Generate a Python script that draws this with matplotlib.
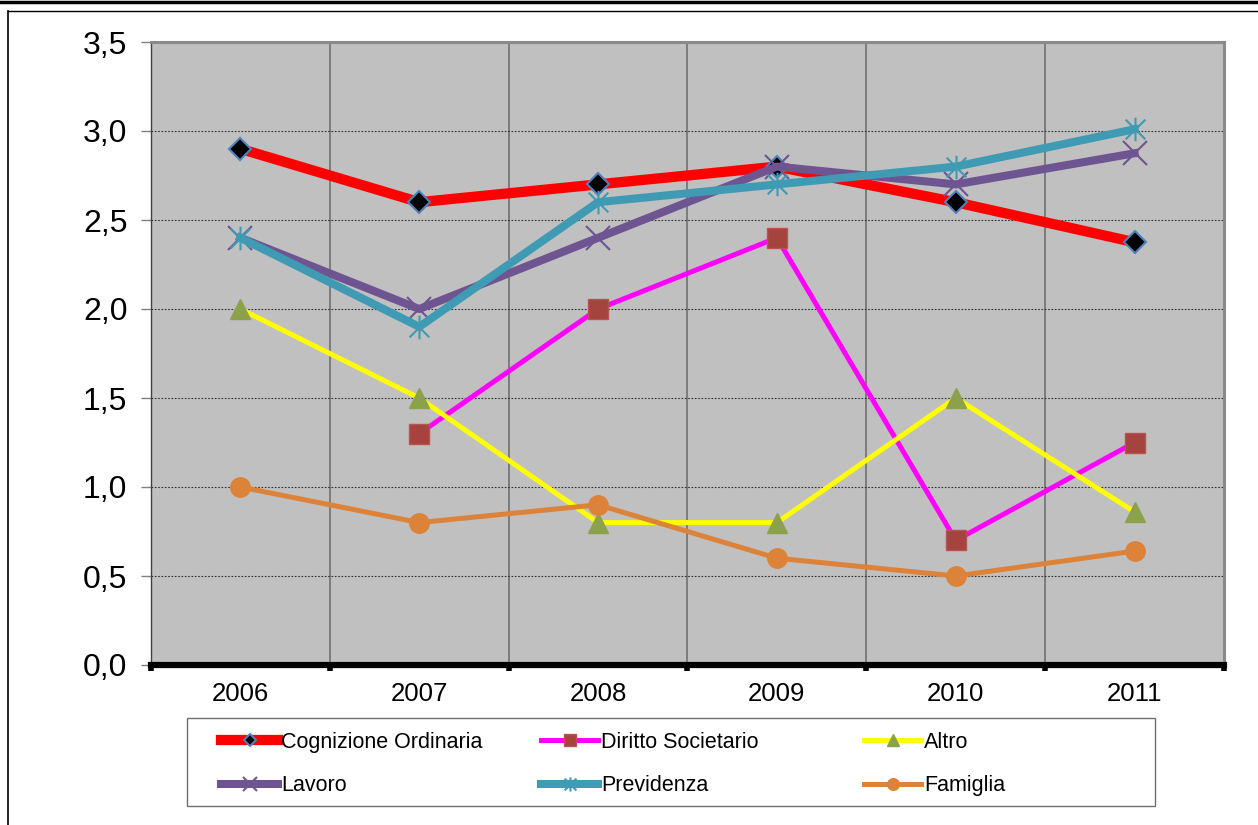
import numpy as np
import matplotlib.pyplot as plt
from matplotlib.lines import Line2D
from matplotlib.patches import Rectangle
from matplotlib.path import Path
from matplotlib.ticker import FixedLocator, FuncFormatter

plt.rcParams['font.family'] = ['Liberation Sans', 'DejaVu Sans']

years = ['2006', '2007', '2008', '2009', '2010', '2011']
cognizione = [2.9, 2.6, 2.7, 2.8, 2.6, 2.375]
diritto = [np.nan, 1.3, 2.0, 2.4, 0.7, 1.25]
altro = [2.0, 1.5, 0.8, 0.8, 1.5, 0.86]
lavoro = [2.4, 2.0, 2.4, 2.8, 2.7, 2.875]
previdenza = [2.4, 1.9, 2.6, 2.7, 2.8, 3.01]
famiglia = [1.0, 0.8, 0.9, 0.6, 0.5, 0.64]

# asterisk marker like Excel's "star" (x plus vertical bar)
star = Path([(-0.5, -0.5), (0.5, 0.5), (-0.5, 0.5), (0.5, -0.5), (0, -0.6), (0, 0.6)],
            [Path.MOVETO, Path.LINETO, Path.MOVETO, Path.LINETO, Path.MOVETO, Path.LINETO])

fig = plt.figure(figsize=(12.58, 8.25), dpi=100)
ax = fig.add_axes([151/1258, 1 - 665/825, (1224-151)/1258, (665-42)/825])
ax.set_facecolor('#c0c0c0')

x = np.arange(len(years))
h1, = ax.plot(x, cognizione, color='#ff0000', lw=7.4, marker='D', ms=11,
              mfc='black', mec='#4f81bd', mew=1.5, label='Cognizione Ordinaria')
h2, = ax.plot(x, diritto, color='#ff00ff', lw=3.6, marker='s', ms=14,
              mfc='#a5443f', mec='#b85450', mew=1, label='Diritto Societario')
h3, = ax.plot(x, altro, color='#ffff00', lw=3.6, marker='^', ms=15,
              mfc='#8ba14b', mec='#8ba14b', label='Altro')
h4, = ax.plot(x, lavoro, color='#6f5492', lw=5.8, marker='x', ms=17,
              mec='#6f5492', mew=1.5, label='Lavoro')
h5, = ax.plot(x, previdenza, color='#3f9ab3', lw=5.8, marker=star, ms=17,
              mec='#3f9ab3', mew=1.5, label='Previdenza')
h6, = ax.plot(x, famiglia, color='#dc8339', lw=3.6, marker='o', ms=14,
              mfc='#dc8339', mec='#dc8339', label='Famiglia')

ax.set_xlim(-0.5, 5.5)
ax.set_ylim(0, 3.5)
ax.set_yticks(np.arange(0, 3.51, 0.5))
ax.yaxis.set_major_formatter(FuncFormatter(lambda v, p: f'{v:.1f}'.replace('.', ',')))
ax.tick_params(axis='y', labelsize=23, length=7, width=1, color='#808080', pad=10)

ax.xaxis.set_major_locator(FixedLocator(np.arange(-0.5, 6, 1)))
ax.xaxis.set_minor_locator(FixedLocator(x))
ax.set_xticklabels([], minor=False)
ax.set_xticks(x, years, minor=True)
ax.tick_params(axis='x', which='major', length=4, width=4, color='black', direction='out')
ax.tick_params(axis='x', which='minor', length=0, labelsize=18.5, pad=12)

ax.grid(axis='y', color='#303030', ls=(0, (1.5, 1.5)), lw=0.8)
ax.grid(axis='x', which='major', color='#707070', lw=1.2)
ax.set_axisbelow(True)

ax.spines['bottom'].set_linewidth(4.5)
ax.spines['bottom'].set_color('black')
ax.spines['left'].set_color('#404040')
ax.spines['left'].set_linewidth(1)
ax.spines['top'].set_color('#8a8a8a')
ax.spines['top'].set_linewidth(2.2)
ax.spines['right'].set_color('#8a8a8a')
ax.spines['right'].set_linewidth(2.2)

# page-like frame lines
fig.add_artist(Line2D([0, 1], [1 - 1.5/825, 1 - 1.5/825], color='black', lw=2.5))
fig.add_artist(Line2D([8/1258, 1], [1 - 11/825, 1 - 11/825], color='black', lw=1))
fig.add_artist(Line2D([8/1258, 8/1258], [0, 1 - 11/825], color='black', lw=1.2))

# legend frame and three columns
fig.add_artist(Rectangle((187/1258, 1 - 806/825), (1155-187)/1258, (806-718)/825,
                         transform=fig.transFigure, fc='white', ec='#707070', lw=1))
cols = [([h1, h4], 221), ([h2, h5], 541), ([h3, h6], 864)]
for hs, xl in cols:
    lg = fig.legend(handles=hs, loc='upper left', bbox_to_anchor=(xl/1258, 1 - 732/825),
                    frameon=False, fontsize=15.5, handlelength=2.65, handletextpad=0.15,
                    borderpad=0, borderaxespad=0, labelspacing=1.03)
    for ln in lg.get_lines():
        ln.set_markersize(ln.get_markersize() * 0.6)

fig.savefig('out.png', dpi=100)
